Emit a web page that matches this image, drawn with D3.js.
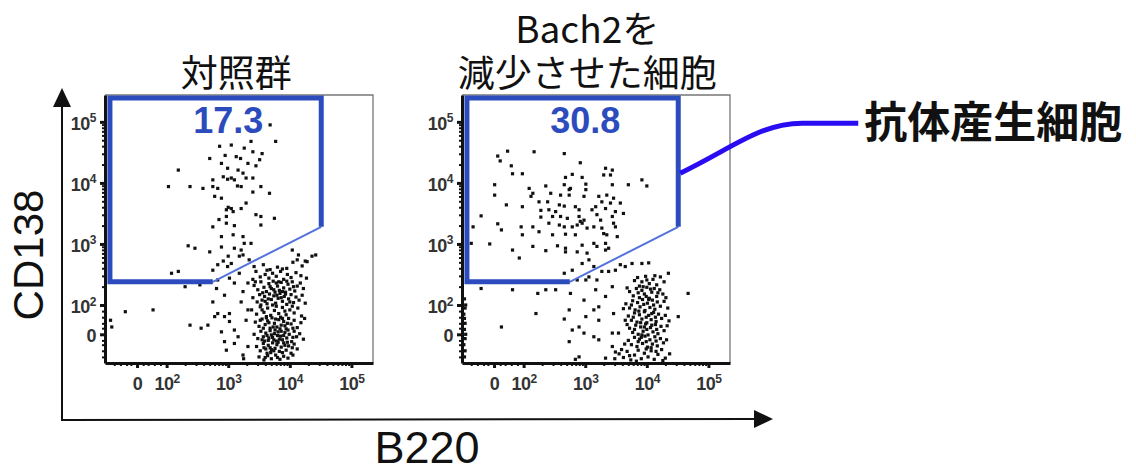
<!DOCTYPE html>
<html><head><meta charset="utf-8">
<script src="https://cdn.jsdelivr.net/npm/d3@7"></script>
<style>body{margin:0;background:#fff}svg{display:block}
.tl{font-family:'Liberation Sans',Arial,sans-serif;font-weight:bold;font-size:18px;fill:#333;letter-spacing:-0.5px}
.tl .sup{font-size:12px}</style>
</head><body><svg id="c" width="1136" height="474"></svg>
<script>
// ---- data (values in log10 "decade" units of a biexponential display) ----
const panelTitles = [["対照群"], ["Bach2を", "減少させた細胞"]];
const gatePercents = ["17.3", "30.8"];
const xAxisTitle = "B220";
const yAxisTitle = "CD138";
const calloutText = "抗体産生細胞";
const decadeTicks = [2, 3, 4, 5];
const zeroTick = 1.52;
const tickExponents = ["2", "3", "4", "5"];
const gateVertices = [[2.75,2.38],[1.08,2.38],[1.08,5.39],[4.51,5.39],[4.51,3.28]];

const controlPoints = [
[3.68,4.95],[3.77,4.68],[3.37,4.68],[3.05,4.62],[2.86,4.60],[3.26,4.57],[3.40,4.51],[3.13,4.43],[2.70,4.40],[3.51,4.38],[2.89,4.32],[3.32,4.32],[2.19,4.21],[2.99,4.24],[3.16,4.21],[3.24,4.16],[2.92,4.10],[3.05,4.08],[3.10,4.05],[3.29,4.08],[3.40,4.08],[2.75,4.05],[2.99,4.06],[2.03,3.94],[2.38,3.94],[2.59,3.91],[2.75,3.94],[2.83,3.91],[3.21,3.94],[3.53,3.94],[2.78,3.78],[2.89,3.75],[3.67,3.83],[3.29,3.67],[3.21,3.58],[3.05,3.58],[2.97,3.56],[3.08,3.53],[2.97,3.45],[3.45,3.48],[3.53,3.45],[3.75,3.42],[2.97,3.34],[2.75,3.28],[3.53,3.31],[3.08,3.15],[3.24,3.12],[2.89,3.12],[3.37,3.01],[3.26,3.01],[2.89,2.95],[2.35,2.97],[2.46,2.93],[2.70,2.87],[3.10,2.93],[3.21,2.90],[3.05,2.68],[3.24,2.82],[3.34,2.74],[2.75,2.57],[2.83,2.66],[2.08,2.52],[2.19,2.55],[3.18,2.80],[3.00,2.80],[2.92,2.72],[3.45,4.28],[3.55,4.48],[3.20,4.40],[2.95,4.45],[3.15,3.95],[3.40,3.85],[2.85,3.40],[3.10,3.30],[3.00,3.60],
[3.57,2.66],[3.80,2.62],[4.05,2.70],[4.20,2.64],[3.95,2.60],[3.68,2.58],[4.25,2.72],[4.36,2.80],[4.14,2.82],
[3.45,2.55],[3.52,2.46],[3.60,2.50],[3.66,2.44],[3.72,2.52],[3.78,2.47],[3.85,2.55],[3.90,2.42],[3.96,2.50],[4.02,2.45],[4.10,2.53],[4.18,2.48],[4.27,2.44],[3.40,2.42],[3.63,2.57],[3.88,2.59],
[3.42,2.32],[3.48,2.25],[3.53,2.38],[3.58,2.29],[3.62,2.22],[3.66,2.35],[3.70,2.27],[3.73,2.39],[3.76,2.21],[3.80,2.31],[3.83,2.24],[3.86,2.37],[3.90,2.28],[3.93,2.21],[3.97,2.34],[4.00,2.26],[4.04,2.38],[4.08,2.23],[4.12,2.31],[4.17,2.36],[4.22,2.27],[3.56,2.20],[3.68,2.30],[3.78,2.36],[3.88,2.22],[3.95,2.39],[4.06,2.30],[3.44,2.38],[3.74,2.25],[3.82,2.38],
[3.40,2.12],[3.47,2.05],[3.51,2.17],[3.55,2.08],[3.59,2.14],[3.63,2.02],[3.67,2.18],[3.70,2.09],[3.74,2.15],[3.77,2.03],[3.81,2.11],[3.84,2.19],[3.88,2.06],[3.91,2.14],[3.95,2.01],[3.98,2.10],[4.02,2.17],[4.06,2.04],[4.10,2.13],[4.15,2.08],[4.20,2.16],[3.60,2.06],[3.72,2.00],[3.86,2.12],[3.93,2.18],[4.00,2.05],[3.65,2.10],[3.79,2.16],[4.25,2.03],[3.53,2.00],
[3.38,1.92],[3.46,1.85],[3.52,1.97],[3.58,1.88],[3.64,1.95],[3.69,1.83],[3.75,1.91],[3.82,1.86],[3.88,1.96],[3.94,1.84],[4.00,1.92],[4.07,1.87],[4.13,1.95],[4.19,1.82],[3.62,1.81],[3.78,1.98],[3.92,1.90],[4.04,1.98],[3.55,1.92],[3.85,1.80],
[3.44,1.72],[3.50,1.65],[3.55,1.77],[3.60,1.68],[3.64,1.74],[3.68,1.62],[3.71,1.79],[3.75,1.70],[3.79,1.64],[3.82,1.76],[3.86,1.67],[3.90,1.73],[3.94,1.61],[3.98,1.78],[4.02,1.69],[4.07,1.75],[4.12,1.63],[4.18,1.71],[4.24,1.78],[3.57,1.62],[3.66,1.71],[3.73,1.64],[3.84,1.61],[3.88,1.78],[3.96,1.70],[4.05,1.62],[3.52,1.75],[3.77,1.77],[3.62,1.79],[3.92,1.66],
[3.42,1.52],[3.48,1.45],[3.53,1.57],[3.57,1.48],[3.61,1.54],[3.65,1.42],[3.68,1.58],[3.72,1.47],[3.75,1.53],[3.78,1.41],[3.81,1.56],[3.85,1.49],[3.88,1.43],[3.92,1.55],[3.95,1.46],[3.99,1.52],[4.03,1.40],[4.07,1.57],[4.11,1.48],[4.16,1.53],[4.22,1.44],[3.59,1.41],[3.70,1.51],[3.76,1.59],[3.83,1.44],[3.90,1.50],[3.97,1.59],[4.05,1.47],[3.63,1.50],[3.80,1.50],[3.66,1.46],[3.86,1.57],[3.74,1.43],[3.55,1.43],
[3.46,1.32],[3.52,1.25],[3.57,1.37],[3.61,1.28],[3.65,1.34],[3.69,1.22],[3.72,1.38],[3.76,1.29],[3.79,1.35],[3.83,1.24],[3.86,1.31],[3.90,1.38],[3.94,1.26],[3.98,1.33],[4.02,1.21],[4.07,1.36],[4.12,1.28],[3.63,1.21],[3.74,1.25],[3.81,1.39],[3.88,1.22],[3.92,1.34],[3.58,1.30],[3.68,1.30],[3.96,1.39],[4.04,1.30],[3.70,1.27],
[3.50,1.15],[3.58,1.10],[3.64,1.17],[3.70,1.12],[3.77,1.18],[3.84,1.11],[3.90,1.16],[3.97,1.13],[4.05,1.18],[3.25,1.12],[3.60,1.14],[3.80,1.14],
[2.81,2.27],[2.94,2.16],[2.83,1.86],[2.94,1.81],[2.67,1.67],[2.56,1.62],[2.38,1.67],[2.89,1.56],[3.10,1.59],[3.29,1.75],[3.16,1.48],[2.94,1.40],[3.24,1.18],[3.02,1.86],[3.32,1.92],[3.10,2.36],[3.02,2.44],[2.83,2.41],[1.33,1.89],[1.78,1.92],[1.11,1.64],[1.09,1.75],[2.30,2.30],[2.54,2.33],[3.18,2.52],[2.99,2.63],[3.42,2.63],[4.04,2.90],[4.12,2.74],[4.28,2.71],[4.42,2.82],[3.24,2.22],[3.21,2.05],[2.75,2.05],[2.78,1.81],[3.02,1.73],[3.10,1.37],[2.97,1.26],[3.32,1.32],[3.32,2.36]
];

const bach2Points = [
[1.58,4.44],[1.74,4.52],[2.17,4.51],[2.66,4.48],[1.62,4.36],[2.92,4.33],[1.80,4.28],[1.82,4.15],[1.98,4.15],[2.68,4.09],[2.79,4.14],[2.95,4.09],[3.33,4.24],[3.44,4.21],[3.30,4.13],[3.41,4.13],[1.53,3.97],[2.36,3.95],[2.66,3.97],[2.76,3.91],[2.74,3.89],[3.01,3.98],[3.44,3.97],[3.70,3.97],[3.92,4.05],[4.00,3.95],[2.09,3.91],[2.98,3.78],[1.53,3.80],[2.12,3.78],[2.15,3.83],[2.44,3.83],[2.60,3.80],[2.74,3.80],[3.01,3.89],[3.22,3.78],[3.35,3.80],[3.46,3.75],[3.27,3.69],[3.41,3.67],[3.57,3.67],[1.72,3.64],[1.98,3.61],[2.25,3.69],[2.39,3.69],[2.58,3.64],[2.66,3.62],[2.84,3.61],[3.17,3.61],[2.28,3.55],[2.41,3.56],[2.52,3.53],[2.90,3.56],[3.11,3.56],[3.33,3.58],[3.49,3.53],[3.62,3.50],[1.31,3.46],[2.28,3.44],[2.47,3.45],[2.60,3.45],[2.71,3.42],[2.90,3.45],[2.98,3.39],[2.92,3.37],[3.19,3.48],[3.25,3.39],[3.44,3.45],[1.18,3.28],[1.58,3.33],[1.64,3.23],[1.96,3.28],[2.15,3.28],[2.25,3.20],[2.41,3.34],[2.58,3.31],[2.66,3.28],[2.79,3.28],[2.87,3.31],[2.95,3.34],[3.03,3.26],[3.14,3.28],[3.27,3.26],[3.30,3.17],[3.46,3.34],[3.49,3.28],[1.98,3.15],[2.47,3.15],[2.68,3.16],[2.84,3.15],[3.35,3.15],[3.52,3.12],[1.15,3.01],[1.45,3.00],[1.82,2.90],[1.93,2.77],[2.15,2.96],[2.36,2.89],[2.55,2.97],[2.68,2.93],[2.68,2.87],[2.87,2.87],[3.03,2.85],[2.95,2.98],[3.14,3.01],[3.33,2.90],[3.38,2.93],[3.19,2.96],[2.66,2.52],[2.79,2.57],[2.95,2.68],[3.06,2.74],[3.14,2.63],[3.33,3.01],
[1.31,2.27],[1.82,2.25],[2.23,2.19],[2.36,2.25],[2.52,2.25],[2.20,1.86],[1.64,1.64],[2.66,1.77],[2.74,1.92],[2.79,1.59],[2.90,1.64],[3.01,1.81],[3.14,1.92],[3.22,1.97],[2.98,1.54],[3.14,1.48],[3.22,1.43],[2.74,1.40],[3.44,1.32],[3.49,1.23],[2.90,1.15],[2.84,1.11],[3.33,1.13],[2.87,2.41],[3.06,2.46],[3.19,2.41],[3.27,2.55],[3.38,2.55],[3.49,2.57],[3.57,2.66],[3.65,2.63],[3.76,2.68],[3.92,2.68],[4.03,2.69],[4.35,2.52],[4.67,2.19],[4.51,1.81],[2.98,2.08],[3.17,2.25],[3.44,2.30],[3.33,2.14],[3.22,1.75],[3.46,1.86],[3.54,1.54],[3.44,1.54],[3.01,2.41],[2.76,2.19],
[1.04,2.10],[1.05,1.95],[1.03,1.85],[1.05,1.70],[1.04,1.60],[1.05,1.45],[1.03,1.35],[1.05,1.25],[1.04,1.15],[1.06,2.00],[1.04,1.78],[1.06,1.52],
[3.85,2.45],[3.92,2.38],[3.98,2.47],[4.04,2.35],[4.10,2.42],[4.16,2.33],[4.22,2.46],[3.88,2.31],[4.00,2.41],[4.13,2.48],[4.28,2.38],[3.80,2.40],
[3.72,2.22],[3.78,2.15],[3.83,2.27],[3.88,2.12],[3.92,2.24],[3.96,2.18],[4.00,2.29],[4.04,2.11],[4.08,2.21],[4.12,2.27],[4.16,2.14],[4.21,2.25],[4.26,2.18],[3.68,2.28],[3.86,2.20],[3.99,2.14],[4.06,2.26],[4.18,2.20],[3.94,2.30],[4.31,2.12],
[3.66,2.02],[3.72,1.95],[3.77,2.07],[3.81,1.92],[3.85,2.04],[3.89,1.97],[3.93,2.09],[3.97,1.91],[4.01,2.03],[4.05,1.96],[4.09,2.08],[4.13,1.93],[4.17,2.05],[4.22,1.98],[4.28,2.06],[3.75,2.00],[3.87,1.90],[3.95,2.01],[4.03,2.09],[4.11,2.00],[3.62,1.94],[4.34,1.95],
[3.70,1.82],[3.75,1.75],[3.80,1.87],[3.84,1.72],[3.88,1.84],[3.92,1.77],[3.96,1.89],[4.00,1.71],[4.03,1.83],[4.07,1.76],[4.11,1.88],[4.15,1.73],[4.19,1.85],[4.24,1.78],[4.30,1.83],[3.78,1.80],[3.90,1.71],[3.99,1.80],[4.08,1.86],[4.14,1.80],[3.65,1.75],[4.36,1.74],
[3.72,1.62],[3.77,1.55],[3.82,1.67],[3.86,1.52],[3.90,1.64],[3.94,1.57],[3.98,1.69],[4.02,1.51],[4.06,1.63],[4.10,1.56],[4.14,1.68],[4.18,1.53],[4.23,1.65],[4.28,1.58],[3.80,1.60],[3.92,1.51],[4.00,1.60],[4.08,1.67],[4.16,1.60],[3.68,1.68],[4.33,1.66],[3.96,1.64],
[3.70,1.42],[3.75,1.35],[3.80,1.47],[3.84,1.32],[3.88,1.44],[3.93,1.37],[3.97,1.49],[4.01,1.31],[4.05,1.43],[4.09,1.36],[4.13,1.48],[4.17,1.33],[4.22,1.45],[4.27,1.38],[3.86,1.40],[3.99,1.40],[4.07,1.30],[4.15,1.41],[3.64,1.36],[4.32,1.43],[3.91,1.47],
[3.55,1.20],[3.62,1.14],[3.68,1.24],[3.74,1.10],[3.80,1.18],[3.86,1.26],[3.91,1.12],[3.96,1.21],[4.02,1.15],[4.07,1.25],[4.12,1.11],[4.18,1.19],[4.24,1.27],[4.30,1.13],[4.37,1.20],[3.48,1.12],[3.59,1.27],[3.83,1.08],[3.99,1.28],[4.15,1.24],[4.26,1.09],[3.72,1.17]
];
const panelData = [controlPoints, bach2Points];

// ---- drawing ----
const svg = d3.select("#c");
const panelLeft = [105, 462], panelW = 268, panelTop = 95, panelBottom = 363;
const xDomain = [1.0, 5.35], yDomain = [1.05, 5.44];
const gateBlue = "#2c4cbd";
const minorTicks = [];
[2,3,4].forEach(n => { for (let k = 2; k <= 9; k++) minorTicks.push(n + Math.log10(k)); });
[1.15,1.25,1.35,1.42,1.62,1.7,1.8,1.9].forEach(v => minorTicks.push(v));

const labelFont = "'Liberation Sans', Arial, sans-serif";
const cjkFont = "'Noto Sans CJK JP', 'Noto Sans', sans-serif";

function setTickLabel(text, i) {
  const t = d3.select(text);
  t.text(null).attr("class", "tl");
  if (i === 0) { t.append("tspan").text("0"); return; }
  t.append("tspan").text("10");
  t.append("tspan").attr("class", "sup").attr("dy", "-0.6em").text(tickExponents[i - 1]);
}

panelData.forEach((pts, p) => {
  const x = d3.scaleLinear().domain(xDomain).range([panelLeft[p], panelLeft[p] + panelW]);
  const y = d3.scaleLinear().domain(yDomain).range([panelBottom, panelTop]);
  const g = svg.append("g");

  // top / right frame (thin)
  g.append("path").attr("fill", "none").attr("stroke", "#777").attr("stroke-width", 1.3)
    .attr("d", `M${x(xDomain[0])},${y(yDomain[1])}H${x(xDomain[1])}V${y(yDomain[0])}`);

  // dots
  g.append("g").selectAll("rect").data(pts).join("rect")
    .attr("x", d => x(d[0]) - 1.6).attr("y", d => y(d[1]) - 1.6)
    .attr("width", 3.2).attr("height", 3.2).attr("fill", "#111");

  // gate
  const line = d3.line().x(d => x(d[0])).y(d => y(d[1]));
  g.append("path").attr("d", line([gateVertices[4], gateVertices[0]]))
    .attr("fill", "none").attr("stroke", "#5571dc").attr("stroke-width", 2);
  g.append("path").attr("d", line(gateVertices))
    .attr("fill", "none").attr("stroke", gateBlue).attr("stroke-width", 5)
    .attr("stroke-linejoin", "miter");

  g.append("text").attr("x", x(3.0)).attr("y", y(4.82)).attr("text-anchor", "middle")
    .attr("font-family", labelFont).attr("font-weight", "bold").attr("font-size", 36)
    .attr("fill", gateBlue).text(gatePercents[p]);

  // minor ticks
  const mTickY = d3.axisLeft(y).tickValues(minorTicks).tickSize(3).tickFormat("").tickSizeOuter(0);
  const mTickX = d3.axisBottom(x).tickValues(minorTicks).tickSize(3).tickFormat("").tickSizeOuter(0);
  const gmY = g.append("g").attr("transform", `translate(${x(xDomain[0])},0)`).call(mTickY);
  const gmX = g.append("g").attr("transform", `translate(0,${y(yDomain[0])})`).call(mTickX);
  [gmY, gmX].forEach(a => { a.select(".domain").remove(); a.selectAll("line").attr("stroke", "#111").attr("stroke-width", 2); });

  // major axes
  const majors = [zeroTick].concat(decadeTicks);
  const ay = d3.axisLeft(y).tickValues(majors).tickSize(5).tickPadding(4).tickSizeOuter(0);
  const ax = d3.axisBottom(x).tickValues(majors).tickSize(5).tickPadding(7).tickSizeOuter(0);
  const gy = g.append("g").attr("transform", `translate(${x(xDomain[0])},0)`).call(ay);
  const gx = g.append("g").attr("transform", `translate(0,${y(yDomain[0])})`).call(ax);
  [gy, gx].forEach(a => {
    a.attr("font-size", null).attr("font-family", null);
    a.select(".domain").attr("stroke", "#111").attr("stroke-width", 3);
    a.selectAll(".tick line").attr("stroke", "#111").attr("stroke-width", 3);
    a.selectAll(".tick text").attr("fill", null).each(function (d, i) { setTickLabel(this, i); });
  });
  gy.selectAll(".tick text").attr("dy", "0.4em");
  gx.selectAll(".tick text").attr("dy", "0.85em");

  // title (one text element, one tspan per line)
  const cx = x(3.0) + (p === 0 ? 8 : 2);
  const lines = panelTitles[p];
  const tt = svg.append("text").attr("x", cx).attr("y", 87 - (lines.length - 1) * 44)
    .attr("text-anchor", "middle").attr("font-family", cjkFont).attr("font-size", 37)
    .attr("fill", "#111");
  lines.forEach((t, i) => {
    tt.append("tspan").attr("x", cx).attr("dy", i === 0 ? 0 : 44).text(t);
  });

  if (p === 1) {
    const sx = x(4.51) + 2, sy = y(4.16);
    svg.append("path")
      .attr("d", `M${sx},${sy} C${sx + 52},${sy - 25} ${sx + 80},${sy - 50} ${sx + 122},${sy - 50} L${sx + 178},${sy - 50}`)
      .attr("fill", "none").attr("stroke", "#2a0cf2").attr("stroke-width", 5);
    svg.append("text").attr("x", sx + 184).attr("y", sy - 35)
      .attr("font-family", cjkFont).attr("font-weight", "bold").attr("font-size", 43)
      .attr("fill", "#111").text(calloutText);
  }
});

// big axes arrows
svg.append("line").attr("x1", 62).attr("y1", 420).attr("x2", 62).attr("y2", 102).attr("stroke", "#111").attr("stroke-width", 2);
svg.append("path").attr("d", "M62,88 L53,107 L71,107 Z").attr("fill", "#111");
svg.append("line").attr("x1", 61).attr("y1", 420).attr("x2", 758).attr("y2", 419).attr("stroke", "#111").attr("stroke-width", 2);
svg.append("path").attr("d", "M773,419 L754,410 L754,428 Z").attr("fill", "#111");

svg.append("text").attr("transform", "translate(43,255) rotate(-90)").attr("text-anchor", "middle")
  .attr("font-family", labelFont).attr("font-size", 42).attr("fill", "#111").text(yAxisTitle);
svg.append("text").attr("x", 427).attr("y", 463).attr("text-anchor", "middle")
  .attr("font-family", labelFont).attr("font-size", 45).attr("fill", "#111").text(xAxisTitle);
</script></body></html>
